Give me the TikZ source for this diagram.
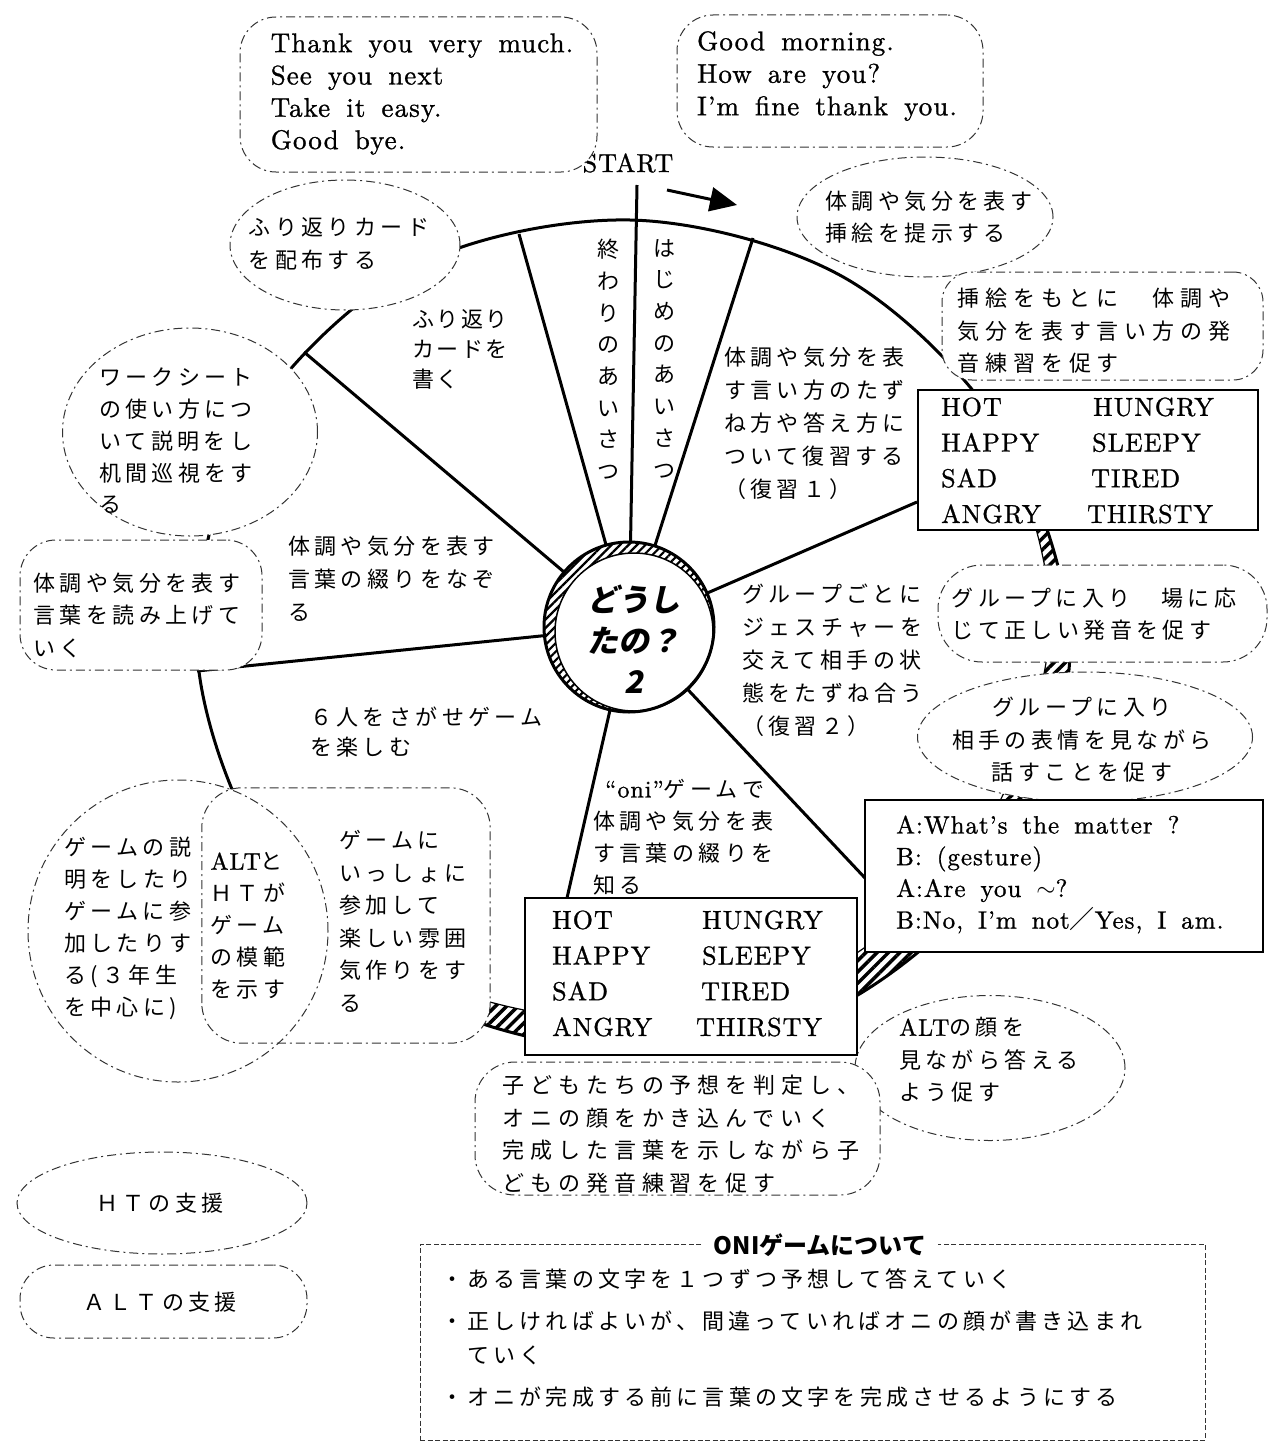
\documentclass[tikz,border=0pt]{standalone}
\usepackage{fontspec}
\usetikzlibrary{shapes.geometric,arrows.meta,patterns.meta,calc}
\newfontfamily\jp{Noto Sans CJK JP}[LetterSpace=20]
\newfontfamily\jpw{Noto Sans CJK JP}[LetterSpace=27]
\newfontfamily\jpo{Noto Sans CJK JP}[LetterSpace=11]
\newfontfamily\jpn{Noto Sans CJK JP}[LetterSpace=19]
\newfontfamily\jpt{Noto Sans CJK JP}
\newfontfamily\jpbi{Noto Sans CJK JP}[FakeSlant=0.2]
\newfontfamily\en{lmroman10-regular.otf}[LetterSpace=4,WordSpace=1.6,FakeBold=1]
\newcommand\jfont{\jp\fontsize{22}{32.5}\selectfont}
\newcommand\jwfont{\jpw\fontsize{22}{32.5}\selectfont}
\newcommand\enf[2]{\en\fontsize{#1}{#2}\selectfont}
\def\bigring{plot[smooth cycle, tension=0.55] coordinates {(630,220) (845,278) (1004,434) (1070,650) (1001,864) (836,1007) (630,1050) (427.5,1001) (268,859) (197,650) (247,429) (410,269)}}
\begin{document}
\begin{tikzpicture}[x=1pt,y=-1pt,
  htline/.style={draw=black!80,line width=1pt,dash pattern=on 9pt off 4pt on 2pt off 4pt},
  htbub/.style={ellipse,htline,fill=white,inner sep=0pt},
  altbub/.style={rectangle,rounded corners=36pt,htline,fill=white,inner sep=0pt},
  wordbox/.style={rectangle,draw,line width=1.2pt,fill=white,inner sep=0pt},
  jtext/.style={inner sep=0pt,align=left,font=\jfont},
  spoke/.style={line width=3pt},
  hatch/.style={pattern={Lines[angle=45,distance=8pt,line width=3.5pt]}},
  hubhatch/.style={pattern={Lines[angle=45,distance=6pt,line width=2.2pt]}}]
\useasboundingbox[fill=white] (0,0) rectangle (1269,1445);

% ---- big wheel ----
\fill[hatch] \bigring;
\begin{scope}[shift={(-20,-30)}]
  \fill[white] \bigring;
\end{scope}
\begin{scope}
  \clip \bigring;
  \begin{scope}[shift={(-20,-30)}]
    \draw[line width=1.2pt] \bigring;
  \end{scope}
\end{scope}
\draw[line width=3pt] \bigring;

% ---- hub ----
\node[circle,minimum size=170pt,inner sep=0pt,fill=white] (hub) at (629,627) {};
\fill[hubhatch] (hub.center) circle[radius=85pt];
\fill[white] ($(hub.center)+(5,5)$) circle[radius=79pt];
\draw[line width=1.5pt] ($(hub.center)+(5,5)$) circle[radius=79pt];
\draw[line width=3pt] (hub.center) circle[radius=85pt];
\node[inner sep=0pt,align=center,font=\jpbi\bfseries\fontsize{31}{41}\selectfont] (hubtxt) at (634,639) {どうし\\たの？\\2};

% ---- spokes ----
\coordinate (s1) at (637,185);
\coordinate (s2) at (519,234);
\coordinate (s3) at (753,238);
\coordinate (s4) at (304,352);
\coordinate (s5) at (197,671);
\coordinate (s6) at (567,898);
\coordinate (s7) at (865,878);
\coordinate (s8) at (917,502);
\foreach \s in {s1,s2,s3,s4,s5,s6,s7,s8} \draw[spoke] (hub) -- (\s);

% ---- start + arrow ----
\node[inner sep=0pt,font=\enf{26}{28}] (start) at (628,163) {START};
\coordinate (ar1) at (667,190);
\coordinate (ar2) at (737,205);
\draw[line width=3pt,-{Triangle[length=27pt,width=24pt]}] (ar1) -- (ar2);

% ---- wheel texts ----
\node[jtext,anchor=north west,font=\jpo\fontsize{22}{30}\selectfont] (t1) at (412,309) {ふり返り\\カードを\\書く};
\node[jtext,anchor=north west,font=\jp\fontsize{22}{33}\selectfont] (t2) at (724,347) {体調や気分を表\\す言い方のたず\\ね方や答え方に\\ついて復習する\\（復習１）};
\node[jtext,anchor=north west,font=\jp\fontsize{22}{33}\selectfont] (t3) at (742,584) {グループごとに\\ジェスチャーを\\交えて相手の状\\態をたずね合う\\（復習２）};
\node[jtext,anchor=north west,font=\jp\fontsize{22}{32}\selectfont] (t4) at (593,779) {\hspace*{12pt}{\enf{24}{32}“oni”}ゲームで\\体調や気分を表\\す言葉の綴りを\\知る};
\node[jtext,anchor=north west,font=\jp\fontsize{22}{30}\selectfont] (t5) at (310,707) {６人をさがせゲーム\\を楽しむ};
\node[jtext,anchor=north west,font=\jp\fontsize{22}{33}\selectfont] (t6) at (288,536) {体調や気分を表す\\言葉の綴りをなぞ\\る};
\node[inner sep=0pt,align=center,anchor=north,font=\jpt\fontsize{22}{31.7}\selectfont] (t7) at (608,239) {終\\わ\\り\\の\\あ\\い\\さ\\つ};
\node[inner sep=0pt,align=center,anchor=north,font=\jpt\fontsize{22}{31.7}\selectfont] (t8) at (664,239) {は\\じ\\め\\の\\あ\\い\\さ\\つ};

% ---- bubbles: shapes ----
\node[altbub,minimum width=357pt,minimum height=155pt] (a1) at (418.5,94.5) {};
\node[altbub,minimum width=306pt,minimum height=132pt] (a2) at (830,81) {};
\node[htbub,minimum width=230pt,minimum height=130pt] (h1) at (345,245) {};
\node[htbub,minimum width=256pt,minimum height=120pt] (h2) at (925,217) {};
\node[altbub,rounded corners=30pt,minimum width=321pt,minimum height=108pt] (a3) at (1102.5,326) {};
\node[wordbox,minimum width=340pt,minimum height=140pt] (w1) at (1088,460) {};
\node[htbub,minimum width=255pt,minimum height=208pt] (h3) at (190,432) {};
\node[altbub,minimum width=242pt,minimum height=130pt] (a4) at (141,605) {};
\node[altbub,rounded corners=44pt,minimum width=329pt,minimum height=97pt] (a6) at (1102.5,613.5) {};
\node[htbub,minimum width=335pt,minimum height=130pt] (h5) at (1085,737) {};
\node[wordbox,minimum width=398pt,minimum height=152pt] (dlg) at (1064,876) {};
% Venn pair: fills first, outlines after
\node[ellipse,fill=white,inner sep=0pt,minimum width=300pt,minimum height=302pt] (h4) at (178,931) {};
\node[rectangle,rounded corners=40pt,fill=white,inner sep=0pt,minimum width=288pt,minimum height=255pt] (a5) at (346,915.5) {};
\draw[htline] (h4.center) ellipse[x radius=150pt,y radius=151pt];
\draw[htline,rounded corners=40pt] (a5.south west) rectangle (a5.north east);
\node[htbub,minimum width=270pt,minimum height=145pt] (h6) at (990,1068) {};
\node[wordbox,minimum width=332pt,minimum height=157pt] (w2) at (691,976.5) {};
\node[altbub,rounded corners=40pt,minimum width=405pt,minimum height=133pt] (a7) at (677.5,1128.5) {};
\node[htbub,minimum width=290pt,minimum height=102pt] (h7) at (162,1203) {};
\node[altbub,rounded corners=34pt,minimum width=287pt,minimum height=73pt] (a8) at (163.5,1301.5) {};
\node[rectangle,draw=black!80,line width=1pt,dash pattern=on 5pt off 2.5pt,minimum width=785pt,minimum height=196pt,inner sep=0pt] (oni) at (812.5,1342) {};

% ---- bubble texts ----
\node[inner sep=0pt,align=left,font=\enf{27}{32.3}] (a1t) at (422,94) {Thank you very much.\\See you next\\Take it easy.\\Good bye.};
\node[inner sep=0pt,align=left,font=\enf{27}{32.5}] (a2t) at (827,76) {Good morning.\\How are you?\\I’m fine thank you.};
\node[jtext] (h1t) at (339,244) {ふり返りカード\\を配布する};
\node[jtext] (h2t) at (929,217) {体調や気分を表す\\挿絵を提示する};
\node[jtext,font=\jwfont] (a3t) at (1094,331) {挿絵をもとに　体調や\\気分を表す言い方の発\\音練習を促す};
\node[inner sep=0pt,align=left,anchor=west,font=\enf{26}{35.7}] (w1t) at (941,460.5) {\makebox[152pt][l]{HOT}HUNGRY\\\makebox[151pt][l]{HAPPY}SLEEPY\\\makebox[150pt][l]{SAD}TIRED\\\makebox[146pt][l]{ANGRY}THIRSTY};
\node[jtext,font=\jp\fontsize{22}{31.75}\selectfont] (h3t) at (176,441) {ワークシート\\の使い方につ\\いて説明をし\\机間巡視をす\\る};
\node[jtext] (a4t) at (137,615) {体調や気分を表す\\言葉を読み上げて\\いく};
\node[jtext] (a6t) at (1094,614) {グループに入り　場に応\\じて正しい発音を促す};
\node[jtext,align=center] (h5t) at (1082,740) {グループに入り\\相手の表情を見ながら\\話すことを促す};
\node[inner sep=0pt,align=left,anchor=west,font=\enf{25}{31.7}] (dlgt) at (896,874.5) {A:What’s the matter ?\\B: (gesture)\\A:Are you $\sim$?\\B:No, I’m not{\jpt ／}Yes, I am.};
\node[jtext,font=\jp\fontsize{22}{32}\selectfont] (h4t) at (128,928) {ゲームの説\\明をしたり\\ゲームに参\\加したりす\\る(３年生\\を中心に)};
\node[jtext,font=\jp\fontsize{22}{32}\selectfont] (mid) at (248,926) {{\enf{24}{32}ALT}と\\ＨＴが\\ゲーム\\の模範\\を示す};
\node[jtext,font=\jp\fontsize{22}{32.5}\selectfont] (a5t) at (403,921.5) {ゲームに\\いっしょに\\参加して\\楽しい雰囲\\気作りをす\\る};
\node[inner sep=0pt,align=left,anchor=west,font=\enf{26}{35.7}] (w2t) at (552,973.5) {\makebox[150pt][l]{HOT}HUNGRY\\\makebox[150pt][l]{HAPPY}SLEEPY\\\makebox[149pt][l]{SAD}TIRED\\\makebox[144pt][l]{ANGRY}THIRSTY};
\node[jtext] (h6t) at (989,1060) {{\enf{24}{32}ALT}の顔を\\見ながら答える\\よう促す};
\node[jtext,font=\jwfont] (a7t) at (681,1134) {子どもたちの予想を判定し、\\オニの顔をかき込んでいく\\完成した言葉を示しながら子\\どもの発音練習を促す};
\node[jtext] (h7t) at (160,1203) {ＨＴの支援};
\node[jtext] (a8t) at (160,1302) {ＡＬＴの支援};

% ---- ONI box ----
\node[fill=white,inner xsep=12pt,inner ysep=2pt,font=\jpt\bfseries\fontsize{24}{28}\selectfont] (onititle) at (820,1245) {ONIゲームについて};
\node[inner sep=0pt,align=left,anchor=north west,font=\jpn\fontsize{22}{34}\selectfont] (onitxt) at (441,1268) {・ある言葉の文字を１つずつ予想して答えていく\\[8pt]・正しければよいが、間違っていればオニの顔が書き込まれ\\\hspace*{26pt}ていく\\[8pt]・オニが完成する前に言葉の文字を完成させるようにする};
\end{tikzpicture}
\end{document}
